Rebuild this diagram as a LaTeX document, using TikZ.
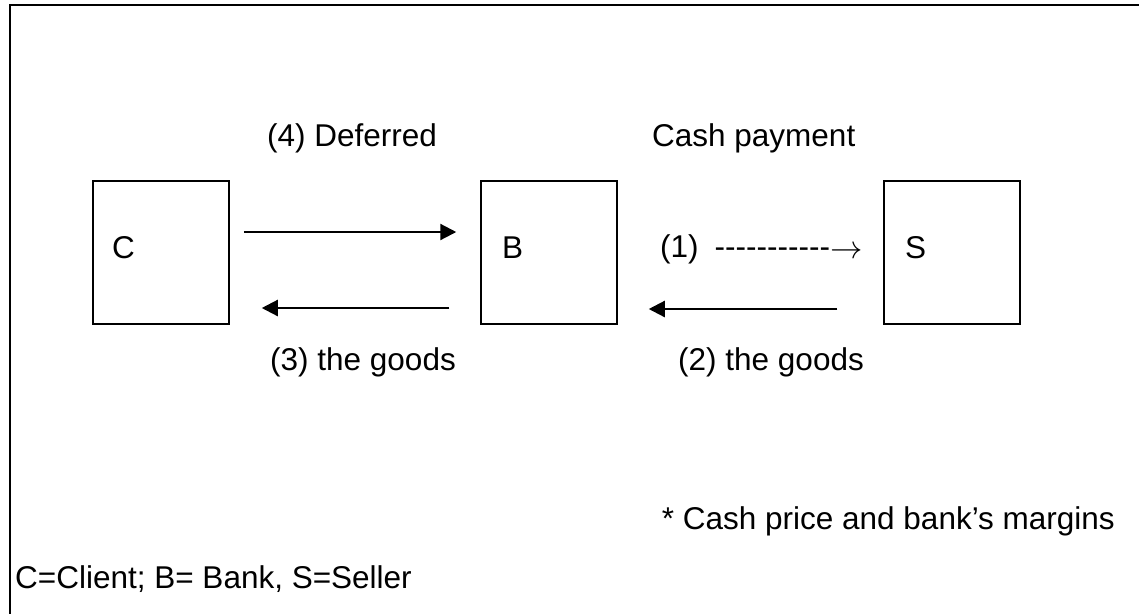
\documentclass[tikz,border=0pt]{standalone}
\usepackage{fontspec}
\setmainfont{Liberation Sans}
\usetikzlibrary{arrows.meta}
\tikzset{
  box/.style={draw, line width=1.5pt, minimum width=136pt, minimum height=143pt, inner sep=0pt},
  lbl/.style={inner sep=0pt, anchor=base west, font=\fontsize{31.5}{36}\selectfont},
  flow/.style={line width=2.2pt, -{Triangle[length=16pt,width=16pt]}}
}
\begin{document}
\begin{tikzpicture}[x=1pt,y=-1pt]
\useasboundingbox (0,0) rectangle (1139,614);
\fill[white] (0,0) rectangle (1139,614);
\draw[line width=2.5pt] (1139,5) -- (10,5) -- (10,614);
% boxes
\node[box] (C) at (161,252.5) {};
\node[box] (B) at (549,252.5) {};
\node[box] (S) at (952,252.5) {};
% box letters
\node[lbl] (Ct) at (112,258) {C};
\node[lbl] (Bt) at (502,258) {B};
\node[lbl] (St) at (905,258) {S};
% connectors
\draw[flow] ([shift={(14,-20.5)}]C.east) -- ([shift={(-24,-20.5)}]B.west);
\draw[flow] ([shift={(-31,55.5)}]B.west) -- ([shift={(32,55.5)}]C.east);
\draw[flow] ([shift={(-46,56.5)}]S.west) -- ([shift={(31,56.5)}]B.east);
% labels
\node[lbl] (l4) at (267,146) {(4) Deferred};
\node[lbl] (lcash) at (652,146) {Cash payment};
\node[lbl] (l1) at (660,257) {(1)\hspace{16pt}-{}-{}-{}-{}-{}-{}-{}-{}-{}-{}-{}\raisebox{-1pt}{\scalebox{1.3}{$\rightarrow$}}};
\node[lbl] (l3) at (270,370) {(3) the goods};
\node[lbl] (l2) at (678,370) {(2) the goods};
\node[lbl, anchor=base east] (note) at (1115,529) {* Cash price and bank’s margins};
\node[lbl] (legend) at (15,588) {C=Client; B= Bank, S=Seller};
\end{tikzpicture}
\end{document}
